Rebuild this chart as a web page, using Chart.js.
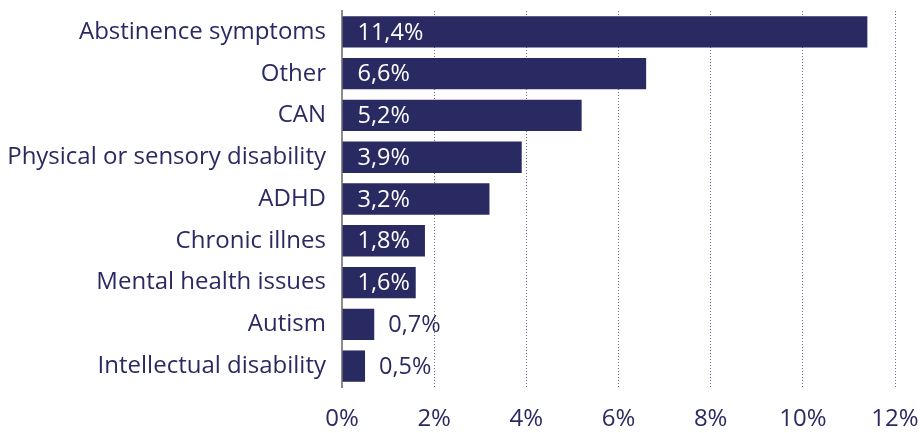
<!DOCTYPE html>
<html>
<head>
<meta charset="utf-8">
<script src="https://cdn.jsdelivr.net/npm/chart.js@4/dist/chart.umd.min.js"></script>
<style>
  html, body { margin: 0; padding: 0; background: #fff; }
  #wrap { width: 920px; height: 433px; }
</style>
</head>
<body>
<div id="wrap"><canvas id="barChart"></canvas></div>
<script>
const categories = [
  "Abstinence symptoms", "Other", "CAN", "Physical or sensory disability",
  "ADHD", "Chronic illnes", "Mental health issues", "Autism", "Intellectual disability"
];
const shares = [11.4, 6.6, 5.2, 3.9, 3.2, 1.8, 1.6, 0.7, 0.5];
const xTicks = [0, 2, 4, 6, 8, 10, 12];

const navy = "#2a2a62";
const fontFamily = "'Open Sans', 'Noto Sans', sans-serif";

const fmt = v => v.toFixed(1).replace(".", ",") + "%";

// draws the value labels: inside the bar when it fits, otherwise after it
const valueLabels = {
  id: "valueLabels",
  afterDatasetsDraw(chart) {
    const ctx = chart.ctx;
    const meta = chart.getDatasetMeta(0);
    ctx.save();
    ctx.font = "23.5px " + fontFamily;
    ctx.textBaseline = "middle";
    ctx.textAlign = "left";
    meta.data.forEach((bar, i) => {
      const text = fmt(shares[i]);
      const w = ctx.measureText(text).width;
      if (bar.x - bar.base > w + 12) {
        ctx.fillStyle = "#ffffff";
        ctx.fillText(text, bar.base + 15, bar.y + 1);
      } else {
        ctx.fillStyle = navy;
        ctx.fillText(text, bar.x + 14, bar.y + 1);
      }
    });
    ctx.restore();
  }
};

const ctx = document.getElementById("barChart").getContext("2d");
new Chart(ctx, {
  type: "bar",
  data: {
    labels: categories,
    datasets: [{
      data: shares,
      backgroundColor: navy,
      categoryPercentage: 1,
      barPercentage: 0.75
    }]
  },
  options: {
    indexAxis: "y",
    responsive: true,
    maintainAspectRatio: false,
    animation: false,
    layout: { padding: { top: 11, right: 25, left: 0, bottom: 0 } },
    plugins: {
      legend: { display: false },
      tooltip: { enabled: false }
    },
    scales: {
      x: {
        min: 0,
        max: 12,
        afterBuildTicks: scale => { scale.ticks = xTicks.map(v => ({ value: v })); },
        afterFit: scale => {
          scale.height = 46;
          scale.paddingLeft = 0;
          scale.paddingRight = 0;
        },
        ticks: {
          color: navy,
          padding: 18,
          font: { family: fontFamily, size: 24 },
          callback: v => v + "%"
        },
        grid: {
          drawTicks: false,
          color: c => (c.tick && c.tick.value === 0 ? "rgba(0,0,0,0)" : "#6d6d9c"),
          lineWidth: 1
        },
        border: { display: false, dash: [1, 2] }
      },
      y: {
        afterFit: scale => {
          scale.width = 342;
          scale.paddingTop = 0;
          scale.paddingBottom = 0;
        },
        ticks: {
          color: navy,
          padding: 16,
          font: { family: fontFamily, size: 24 }
        },
        grid: { display: false, drawTicks: false },
        border: { display: true, color: "#8c8c8c", width: 2 }
      }
    }
  },
  plugins: [valueLabels]
});
</script>
</body>
</html>
